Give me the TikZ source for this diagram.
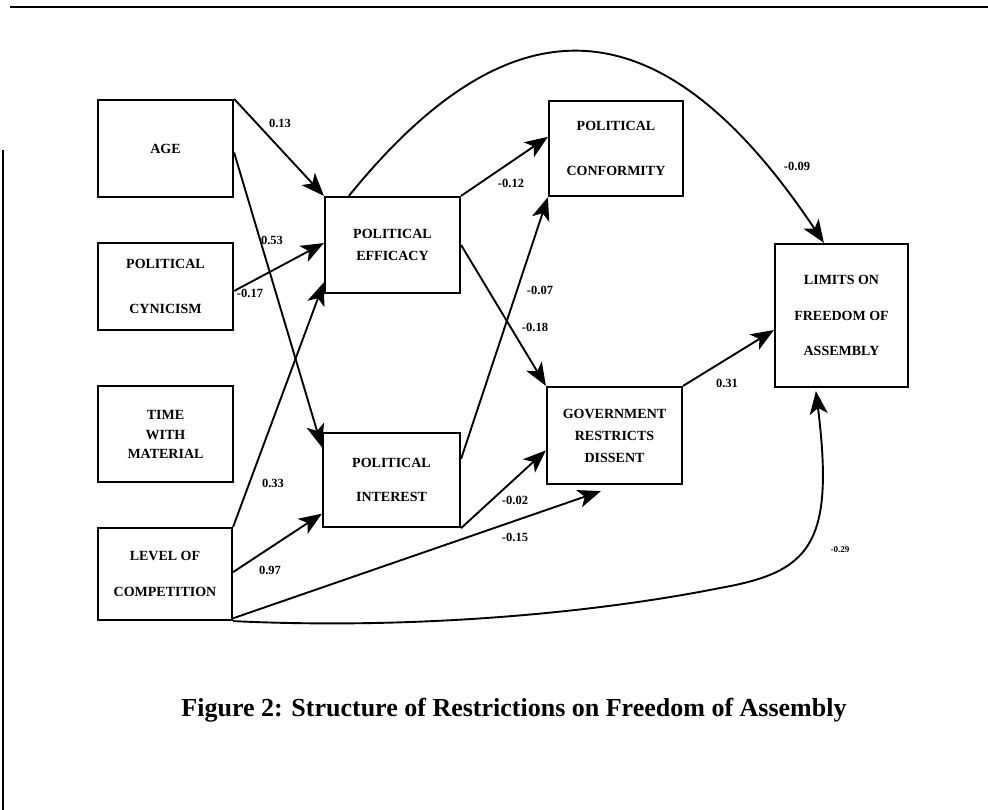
\documentclass[tikz,border=0pt]{standalone}
\usepackage{fontspec}
\setmainfont{Liberation Serif}
\usetikzlibrary{
  arrows.meta,
  calc
}

\begin{document}
\begin{tikzpicture}[x=1pt,y=-1pt,
  box/.style={draw,line width=2.2pt,inner sep=0pt,align=center,
    font=\fontsize{14}{16.5}\selectfont\bfseries},
  link/.style={line width=1.9pt,-{Stealth[length=23pt,width=18pt,inset=6pt]}},
  coef/.style={font=\fontsize{12.5}{14}\selectfont\bfseries,inner sep=1pt}]
\useasboundingbox (0,0) rectangle (988,810);

\draw[line width=2pt] (10,7) -- (988,7);
\draw[line width=1.2pt] (3,150) -- (3,810);

\node [box,minimum width=135pt,minimum height=97pt] (age) at (165.5,148.5) {AGE};
\node [box,minimum width=135pt,minimum height=87pt] (cyn) at (165.5,286.5) {POLITICAL\\[29pt]CYNICISM};
\node [box,minimum width=135pt,minimum height=96pt] (tim) at (165.5,434) {TIME\\[4pt]WITH\\[2pt]MATERIAL};
\node [box,minimum width=134pt,minimum height=92pt] (lev) at (165,574) {LEVEL OF\\[19pt]COMPETITION};

\node [box,minimum width=135pt,minimum height=96pt] (eff) at (392.5,245) {POLITICAL\\[6pt]EFFICACY};
\node [box,minimum width=137pt,minimum height=94pt] (int) at (391.5,480) {POLITICAL\\[18pt]INTEREST};

\node [box,minimum width=134pt,minimum height=95pt] (con) at (616,148.5) {POLITICAL\\[29pt]CONFORMITY};
\node [box,minimum width=135pt,minimum height=97pt] (gov) at (614.5,435.5) {GOVERNMENT\\[6pt]RESTRICTS\\[5pt]DISSENT};

\node [box,minimum width=133pt,minimum height=143pt] (lim) at (841.5,315.5) {LIMITS ON\\[19pt]FREEDOM OF\\[19pt]ASSEMBLY};

% straight paths
\draw [link] (age.north east) -- (eff.north west);
\draw [link] ($(age.north east)!.54!(age.south east)$) -- ($(int.north west)!.16!(int.south west)$);
\draw [link] ($(cyn.north east)!.55!(cyn.south east)$) -- ($(eff.north west)!.48!(eff.south west)$);
\draw [link] (lev.north east) -- ($(eff.north west)!.88!(eff.south west)$);
\draw [link] ($(lev.north east)!.48!(lev.south east)$) -- ($(int.north west)!.85!(int.south west)$);
\draw [link] ($(lev.north east)!.97!(lev.south east)$) -- ($(gov.south west)+(55,6)$);
\draw [link] (eff.north east) -- ($(con.north west)!.38!(con.south west)$);
\draw [link] ($(eff.north east)!.5!(eff.south east)$) -- (gov.north west);
\draw [link] ($(int.north east)!.28!(int.south east)$) -- (con.south west);
\draw [link] (int.south east) -- ($(gov.north west)!.65!(gov.south west)$);
\draw [link] (gov.north east) -- ($(lim.north west)!.6!(lim.south west)$);

% curved paths
\draw [link] ($(eff.north west)+(25,0)$) .. controls (510,-3) and (660,-3) .. ($(lim.north west)+(50,0)$);
\draw [link] (lev.south east) .. controls (420,630) and (600,612) .. (720,588)
  .. controls (810,572) and (835,545) .. ($(lim.south west)+(42,3)$);

\node [coef] (c1) at (280,123) {0.13};
\node [coef] (c2) at (272,240) {0.53};
\node [coef] (c3) at (250,293) {-0.17};
\node [coef] (c4) at (273,483) {0.33};
\node [coef] (c5) at (270,570) {0.97};
\node [coef] (c6) at (515,537) {-0.15};
\node [coef] (c7) at (515,500) {-0.02};
\node [coef] (c8) at (511,183) {-0.12};
\node [coef] (c9) at (540,290) {-0.07};
\node [coef] (c10) at (535,327) {-0.18};
\node [coef] (c11) at (797,166) {-0.09};
\node [coef] (c12) at (727,383) {0.31};
\node [coef,font=\fontsize{9}{11}\selectfont\bfseries] (c13) at (840,550) {-0.29};

\node [font=\fontsize{26}{30}\selectfont\bfseries] (cap) at (514,710) {Figure 2: Structure of Restrictions on Freedom of Assembly};
\end{tikzpicture}
\end{document}
